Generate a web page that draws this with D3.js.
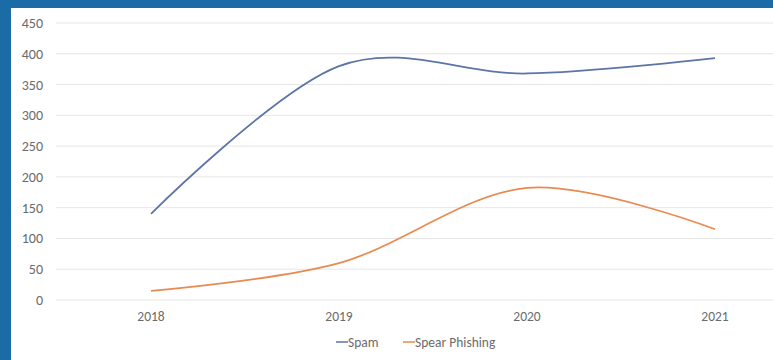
<!DOCTYPE html>
<html>
<head>
<meta charset="utf-8">
<script src="https://cdn.jsdelivr.net/npm/d3@7"></script>
<style>
  body { margin: 0; background: #1b6ca6; }
  svg { display: block; }
  .tick text { fill: #6b6b6b; font-family: Calibri, Carlito, "Liberation Sans", sans-serif; }
</style>
</head>
<body>
<svg id="chart" width="773" height="360"></svg>
<script>
const years = ["2018", "2019", "2020", "2021"];
const spam = [140, 380, 368, 393];
const spearPhishing = [15, 60, 182, 115];
const yTicks = [0, 50, 100, 150, 200, 250, 300, 350, 400, 450];
const seriesNames = ["Spam", "Spear Phishing"];
const seriesColors = ["#5d74a6", "#e88a52"];

const svg = d3.select("#chart");

// white panel inside the blue frame
svg.append("rect")
  .attr("x", 11)
  .attr("y", 8)
  .attr("width", 773 - 11)
  .attr("height", 360 - 8)
  .attr("fill", "#fff");

const x = d3.scaleBand().domain(years).range([57, 809]);
const y = d3.scaleLinear().domain([0, 450]).range([300, 23]);

// gridlines
svg.append("g")
  .selectAll("line")
  .data(yTicks)
  .join("line")
  .attr("x1", 56)
  .attr("x2", 773)
  .attr("y1", d => y(d))
  .attr("y2", d => y(d))
  .attr("stroke", "#e6e6e6")
  .attr("stroke-width", 1);

const yAxis = svg.append("g")
  .attr("transform", "translate(43,0)")
  .call(d3.axisLeft(y).tickValues(yTicks).tickSize(0).tickPadding(0));
yAxis.select(".domain").remove();
yAxis.selectAll("text").attr("font-size", 14);

const xAxis = svg.append("g")
  .attr("transform", "translate(0,311)")
  .call(d3.axisBottom(x).tickSize(0).tickPadding(0));
xAxis.select(".domain").remove();
xAxis.selectAll("text").attr("font-size", 13.5);

const line = d3.line()
  .x((d, i) => x(years[i]) + x.bandwidth() / 2)
  .y(d => y(d))
  .curve(d3.curveCardinal.tension(0));

[spam, spearPhishing].forEach((values, i) => {
  svg.append("path")
    .datum(values)
    .attr("fill", "none")
    .attr("stroke", seriesColors[i])
    .attr("stroke-width", 1.75)
    .attr("d", line);
});

// legend
const legendX = [336, 403];
const legend = svg.append("g").attr("transform", "translate(0,342)");
seriesNames.forEach((name, i) => {
  legend.append("line")
    .attr("x1", legendX[i])
    .attr("x2", legendX[i] + 12)
    .attr("y1", 0)
    .attr("y2", 0)
    .attr("stroke", seriesColors[i])
    .attr("stroke-width", 1.5);
  legend.append("text")
    .attr("x", legendX[i] + 12)
    .attr("y", 4.5)
    .attr("font-size", 13.5)
    .attr("font-family", "Calibri, Carlito, 'Liberation Sans', sans-serif")
    .attr("fill", "#6b6b6b")
    .text(name);
});
</script>
</body>
</html>
